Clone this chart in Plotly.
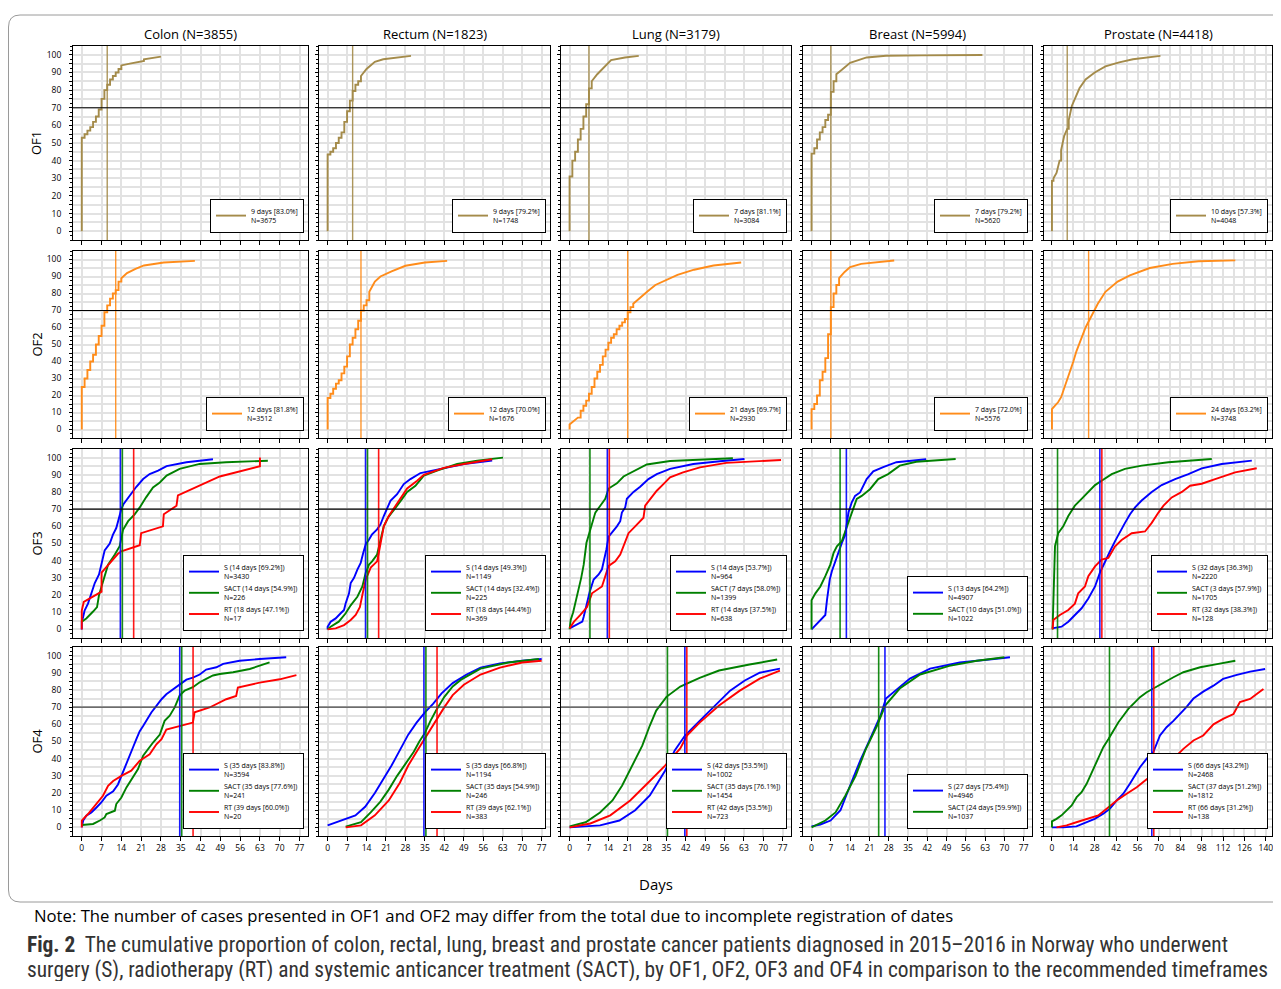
import plotly.graph_objects as go

SCREEN_W, SCREEN_H = 1281, 989
OFF = 8  # default page margin around the plot div
W, H = SCREEN_W - 2 * OFF, SCREEN_H - 2 * OFF

# ---------------- categories / labels ----------------
cancers = ["Colon", "Rectum", "Lung", "Breast", "Prostate"]
cancer_n = [3855, 1823, 3179, 5994, 4418]
rows = ["OF1", "OF2", "OF3", "OF4"]
ticks_short = [0, 7, 14, 21, 28, 35, 42, 49, 56, 63, 70, 77]
ticks_long = [0, 14, 28, 42, 56, 70, 84, 98, 112, 126, 140]
y_ticks = [0, 10, 20, 30, 40, 50, 60, 70, 80, 90, 100]

# ---------------- legend values ----------------
of1_thr_days = [9, 9, 7, 7, 10]
of1_thr_pct = [83.0, 79.2, 81.1, 79.2, 57.3]
of1_n = [3675, 1748, 3084, 5620, 4048]
of2_thr_days = [12, 12, 21, 7, 24]
of2_thr_pct = [81.8, 70.0, 69.7, 72.0, 63.2]
of2_n = [3512, 1676, 2930, 5576, 3748]

of3_s_days = [14, 14, 14, 13, 32]
of3_s_pct = [69.2, 49.3, 53.7, 64.2, 36.3]
of3_s_n = [3430, 1149, 964, 4907, 2220]
of3_sact_days = [14, 14, 7, 10, 3]
of3_sact_pct = [54.9, 32.4, 58.0, 51.0, 57.9]
of3_sact_n = [226, 225, 1399, 1022, 1705]
of3_rt_days = [18, 18, 14, None, 32]
of3_rt_pct = [47.1, 44.4, 37.5, None, 38.3]
of3_rt_n = [17, 369, 638, None, 128]

of4_s_days = [35, 35, 42, 27, 66]
of4_s_pct = [83.8, 66.8, 53.5, 75.4, 43.2]
of4_s_n = [3594, 1194, 1002, 4946, 2468]
of4_sact_days = [35, 35, 35, 24, 37]
of4_sact_pct = [77.6, 54.9, 76.1, 59.9, 51.2]
of4_sact_n = [241, 246, 1454, 1037, 1812]
of4_rt_days = [39, 39, 42, None, 66]
of4_rt_pct = [60.0, 62.1, 53.5, None, 31.2]
of4_rt_n = [20, 383, 723, None, 138]

# ---------------- curves: OF1 ----------------
of1_colon_d = [0, 0, 1, 2, 3, 4, 5, 6, 7, 8, 9, 10, 11, 12, 13, 14, 17, 21, 22, 24, 28]
of1_colon_p = [0, 53, 55, 57, 59, 62, 65, 69, 75, 80, 83, 86, 88, 90, 92, 94, 95, 96.5, 97.5, 98, 99]
of1_rectum_d = [0, 0, 1, 2, 3, 4, 5, 6, 7, 8, 9, 10, 11, 12, 14, 17, 20, 25, 30]
of1_rectum_p = [0, 43.5, 45, 47, 50, 53, 56, 62, 68, 74, 79.5, 83, 85, 88, 92, 96, 97.5, 98.5, 99.4]
of1_lung_d = [0, 0, 1, 2, 3, 4, 5, 6, 7, 8, 10, 12, 15, 20, 25]
of1_lung_p = [0, 31, 40, 45, 52, 58, 65, 72, 81, 85, 89, 92, 97, 98.5, 99.4]
of1_breast_d = [0, 0, 1, 2, 3, 4, 5, 6, 7, 8, 9, 11, 14, 20, 27, 40, 50, 62]
of1_breast_p = [0, 44, 47, 52, 56, 59, 63, 66, 79, 85, 89, 91.5, 95.5, 98.5, 99.5, 99.7, 99.8, 99.9]
of1_prostate_d = [0, 0, 1, 3, 5, 6, 8, 10, 11, 13, 15, 18, 22, 28, 35, 44, 53, 71]
of1_prostate_p = [0, 28.5, 30, 33, 40, 46, 54, 58, 63, 71, 75, 81, 86, 90, 93.4, 95.7, 97.5, 99.4]

# ---------------- curves: OF2 ----------------
of2_colon_d = [0, 0, 1, 2, 3, 4, 5, 6, 7, 8, 9, 10, 11, 12, 13, 14, 16, 19, 22, 29, 40]
of2_colon_p = [0, 25, 30, 35, 40, 44, 50, 55, 61, 69, 73, 77, 80, 82, 87, 89, 92, 94.5, 96.5, 98.2, 99.2]
of2_rectum_d = [0, 0, 1, 2, 3, 4, 5, 6, 7, 8, 9, 10, 11, 12, 13, 14, 15, 17, 19, 23, 28, 35, 43]
of2_rectum_p = [0, 18.5, 21, 24, 27, 29, 33, 37, 43, 50, 54, 59, 64, 70, 73, 76, 81, 87, 90, 93, 96.3, 98.2, 99.2]
of2_lung_d = [0, 0, 3, 4, 5, 6, 7, 8, 9, 10, 11, 12, 13, 14, 15, 16, 17, 18, 19, 20, 21, 22, 23, 25, 28, 31, 35, 39, 45, 52, 62]
of2_lung_p = [0, 3, 7, 11, 14, 17, 21, 25, 30, 34, 38, 43, 47, 51, 54, 56, 59, 61, 63, 65, 69, 72, 74, 77, 81, 85, 88, 91, 94, 96.5, 98.2]
of2_breast_d = [0, 0, 1, 2, 3, 4, 5, 6, 7, 8, 9, 10, 12, 14, 18, 30]
of2_breast_p = [0, 12, 15, 20, 29, 34, 42, 56, 72, 80, 85, 89, 92.7, 95.5, 97.4, 99.4]
of2_prostate_d = [0, 0, 2, 4, 6, 8, 10, 12, 14, 16, 18, 20, 22, 24, 27, 30, 35, 43, 51, 64, 79, 96, 120]
of2_prostate_p = [0, 12, 14, 16, 19, 24, 29, 34, 40, 46, 51, 56, 60, 63.5, 69, 74, 81, 87, 90.7, 95, 97.4, 99, 99.5]

# ---------------- curves: OF3 ----------------
of3_colon_s_d = [0, 0, 0.5, 1, 2.2, 3.4, 4.6, 6.1, 7, 8.1, 9.9, 11, 12.2, 13.2, 14, 14.8, 17, 19.3, 21.7, 24, 27, 30, 37, 46.4]
of3_colon_s_p = [0, 4.5, 7.4, 11, 15, 21, 27, 32, 39, 46, 50, 55, 59, 65, 70, 73, 78, 83, 87.5, 90.4, 92.4, 95, 97.3, 99]
of3_colon_sact_d = [0, 1.6, 4, 5.4, 6.1, 7, 8.1, 9.3, 11.7, 13.4, 14.6, 16.4, 18.7, 20.5, 22.8, 25.2, 27.6, 30, 34.6, 41.7, 51, 65.8]
of3_colon_sact_p = [4.5, 6.4, 10.4, 13, 20, 25, 31, 37.7, 43.6, 48.4, 58, 63, 67, 71, 77, 82.6, 85.5, 89.5, 93.4, 96.3, 97.3, 98.2]
of3_colon_rt_d = [0, 0, 0.7, 7, 7, 12.8, 14, 20.5, 21, 28.7, 29, 33.5, 34, 48.8, 63, 63]
of3_colon_rt_p = [0, 11, 16, 22, 33, 44, 45.5, 49, 56, 60, 67, 72, 78, 89, 95, 100]

of3_rectum_s_d = [0, 0, 1.1, 2.9, 4.7, 5.9, 6.5, 7.7, 8.3, 9.5, 10.7, 11.9, 12.8, 13.7, 14.9, 16, 17.8, 19, 20.2, 21.4, 22.6, 25, 27.4, 29.8, 33.4, 39.4, 49, 59.2]
of3_rectum_s_p = [0, 1.6, 4.5, 6.4, 9.4, 11.3, 15.2, 21, 27, 30, 34.8, 38.7, 44.5, 49.4, 52.3, 55.3, 58.2, 61, 66, 70.9, 74.8, 78.7, 84.6, 87.5, 91, 93, 96.3, 98.2]
of3_rectum_sact_d = [0, 1.1, 4, 6.5, 8.3, 10.7, 12.5, 13.7, 14.9, 16, 17.8, 19, 20.2, 21.7, 23.2, 25, 26.8, 28.6, 31.6, 34.6, 39.4, 46.6, 53.8, 63.1]
of3_rectum_sact_p = [0, 1.6, 4.5, 9.4, 14, 19, 25, 33, 37.7, 39.6, 43.6, 52, 60, 65, 68, 72, 76, 80, 83.6, 89.5, 92.4, 96.3, 98.2, 100]
of3_rectum_rt_d = [0, 2.9, 5.9, 8.3, 10.1, 11.6, 12.5, 13.7, 15.5, 17.8, 18.4, 19, 20.2, 22, 24.4, 26.2, 28.6, 32.2, 34.6, 41.8, 49, 59.2]
of3_rectum_rt_p = [0, 0.6, 2.5, 5.5, 8.4, 13, 20, 29, 36, 39.6, 44.5, 50.4, 60, 66, 72, 76, 82, 86.5, 90, 94, 96.3, 99]

of3_lung_s_d = [0, 2.2, 4.6, 5.1, 6.3, 7.3, 8.7, 10.5, 11.7, 12.6, 13.3, 14.1, 15.7, 17.1, 18.3, 18.9, 20.1, 20.7, 23.1, 25.5, 28.5, 31.5, 36.3, 44.7, 54.3, 63.2]
of3_lung_s_p = [0.6, 2.5, 4.5, 7.4, 15, 22, 29, 32, 35, 40.6, 46.5, 54, 57, 60, 63, 68, 71, 76, 80, 83, 87.5, 90.4, 93.4, 96.3, 97.9, 99.2]
of3_lung_sact_d = [0, 0.4, 1.3, 2.2, 3.4, 4.2, 5.1, 6.1, 7.3, 8.1, 9.3, 11.1, 12.9, 14.1, 17.1, 19.5, 21.9, 27.9, 36.3, 59]
of3_lung_sact_p = [0, 5.5, 10, 16, 23, 30, 37.7, 50.4, 57, 62, 68, 72, 76, 82, 85, 89, 91, 96, 98, 99.6]
of3_lung_rt_d = [0, 1.6, 3.9, 6.3, 8.1, 11.7, 14.1, 16.5, 18.3, 20.1, 21.3, 23.7, 26.7, 27.3, 29.1, 31.5, 33.9, 36.3, 41, 47.1, 56.6, 68.6, 76.4]
of3_lung_rt_p = [0.6, 4.5, 8.4, 13, 21, 25, 37, 39.6, 43.6, 50.4, 56, 60, 65, 72, 76, 80.7, 84.6, 88.5, 91.4, 94.3, 96.9, 97.9, 98.6]

of3_breast_s_d = [0, 1.4, 3.2, 5, 5.6, 6.6, 7.4, 8.6, 9.8, 11, 12.2, 13.4, 14.6, 15.8, 17.6, 18.8, 20, 22.4, 26, 30.8, 41.6]
of3_breast_s_p = [0, 2.5, 5.5, 8.4, 17, 29, 34, 39.6, 45.5, 50.4, 55, 68, 74, 77.7, 79.7, 83.6, 87.5, 92, 94.5, 97.3, 99]
of3_breast_sact_d = [0, 0, 1.4, 3.2, 5, 6.8, 8, 9.2, 11, 12.8, 14.6, 16.4, 18.2, 21.2, 24.2, 27.8, 32, 38, 52.3]
of3_breast_sact_p = [0, 17, 21, 25, 31, 37.7, 44.5, 48.4, 51.4, 60, 68, 76, 77.7, 81.6, 87.5, 90.4, 95.3, 97.6, 99.2]

of3_prostate_s_d = [0, 6.3, 10.7, 15, 19.4, 23.8, 28.2, 31.4, 34.7, 38, 41.3, 44.5, 47.8, 51.1, 54.4, 58.7, 65.3, 71.8, 80.6, 89.3, 98, 111.1, 130.8]
of3_prostate_s_p = [0.6, 1.6, 4.5, 8.4, 12.3, 18, 25, 33, 39.6, 45.5, 51.4, 57, 62, 67, 71, 75, 80, 84, 87.5, 90.4, 93.7, 96.3, 98.2]
of3_prostate_sact_d = [0.4, 0.9, 2, 4.1, 7.4, 10.7, 15, 19.4, 23.8, 28.2, 32.5, 39.1, 47.8, 58.7, 76.2, 104.6]
of3_prostate_sact_p = [0, 21, 48.4, 56, 60, 66, 72, 76, 80, 84, 86.5, 90.4, 93.4, 95.3, 97.3, 99.2]
of3_prostate_rt_d = [0.4, 0.9, 5.2, 10.7, 15, 17.2, 21.6, 23.8, 28.2, 32.5, 36.9, 41.3, 45.6, 52.2, 60.9, 65.3, 69.7, 73, 78.4, 85, 90.4, 98, 106.8, 113.3, 119.9, 134]
of3_prostate_rt_p = [0, 5.5, 8.4, 11.3, 15, 21, 25, 31, 36.7, 40.6, 41.6, 48.4, 52, 56, 57, 62, 68, 72, 76.8, 80, 83.6, 84.8, 87.5, 89.5, 91.4, 93.8]

# ---------------- curves: OF4 ----------------
of4_colon_s_d = [0, 0.5, 1.6, 3.4, 5.2, 6.9, 8.7, 11.1, 12.8, 14.6, 15.8, 17, 18.1, 19.3, 20.5, 21.7, 22.8, 24.6, 26.4, 28.2, 29.9, 32.3, 34.6, 37, 39.3, 41.7, 44, 47.6, 50, 55.8, 62.9, 72.3]
of4_colon_s_p = [0, 4, 6.8, 8.7, 11.6, 14.5, 18.4, 21, 25, 32, 37, 41.7, 46.5, 51.4, 56, 59, 62, 66.9, 70.7, 74.6, 77.5, 80.4, 83.3, 86, 87.2, 89, 91.9, 93.2, 95.2, 97, 98, 99]
of4_colon_sact_d = [0, 4, 6.4, 8.1, 8.7, 11.7, 12.2, 14, 15.8, 17.5, 19.9, 21.7, 23.4, 25.2, 27.6, 29.3, 31.1, 32.9, 34.6, 36.4, 39.3, 41.7, 44, 46.4, 48.8, 53.5, 59.4, 62.9, 66.4]
of4_colon_sact_p = [1.4, 2, 4, 5.8, 7.8, 9.7, 13.6, 17.4, 23.3, 28, 34, 41.7, 45.5, 49.4, 54, 62, 65, 70, 76.7, 79.6, 81.6, 84.5, 86.4, 88.4, 89.3, 90.3, 92.2, 94, 96]
of4_colon_rt_d = [0, 0, 2.2, 4.6, 7.5, 9.3, 11.1, 14, 17.5, 20.5, 24, 26.4, 28.2, 29.9, 34.6, 39.3, 39.9, 45.2, 51.1, 54.6, 55.2, 62.9, 70, 75.9]
of4_colon_rt_p = [0, 4, 7.8, 12.6, 18.4, 24.2, 27, 30, 33, 38.8, 42.6, 48.4, 51.4, 57, 59, 61, 67, 69.8, 74.6, 76.5, 81.4, 84.3, 86.2, 88.6]

of4_rectum_s_d = [0, 5, 10, 13.5, 17, 20, 23, 26, 29, 32, 35, 38, 41, 45, 50, 55, 62, 70, 77]
of4_rectum_s_p = [1.2, 4, 7, 12, 20, 28, 36, 45, 54, 61, 67, 72, 78, 84, 89, 93, 95.5, 97, 98]
of4_rectum_sact_d = [6.5, 12, 15.5, 19, 22, 25, 28, 31, 33, 35, 37, 39, 42, 45, 48, 55, 65, 76]
of4_rectum_sact_p = [0.5, 3, 8.7, 15, 22, 30, 37, 44, 50, 55, 62, 68, 76, 82, 86, 92.4, 96, 98]
of4_rectum_rt_d = [6.5, 12, 17, 22, 26, 29, 32, 35, 37, 39, 42, 45, 49, 55, 62, 70, 77]
of4_rectum_rt_p = [0, 1.2, 7, 15.7, 26, 36, 44, 52, 57, 62, 70, 77, 83, 89, 93, 96, 97]

of4_lung_s_d = [0, 11, 18, 23.7, 29, 34.5, 38, 41.7, 47, 52.5, 58, 63.3, 68.7, 76]
of4_lung_s_p = [0, 1.2, 4, 10, 18.6, 33, 44.8, 53.5, 62, 71, 79.6, 85.5, 90, 92.4]
of4_lung_sact_d = [0, 5.8, 11, 15.5, 19, 22.7, 26.3, 29, 31.3, 35, 40, 47, 54, 65, 75]
of4_lung_sact_p = [0.6, 3, 8.7, 15.7, 24.4, 36, 47.7, 59.3, 68, 76, 82, 87, 91.3, 94.8, 97.7]
of4_lung_rt_d = [0, 7.5, 14.7, 21.9, 29, 34.5, 40, 42.4, 47, 54, 61.5, 68.7, 76]
of4_lung_rt_p = [0, 2.3, 7, 15.7, 27, 36, 46, 53.5, 61, 71, 79.6, 86.6, 91.3]

of4_breast_s_d = [0, 3.2, 6.9, 10.5, 14, 17.7, 21.3, 25, 27, 30.3, 35.7, 43, 53.8, 68, 72]
of4_breast_s_p = [0.6, 1.7, 4, 10, 24.4, 39, 51.7, 65, 75, 79.6, 86.6, 92.4, 96, 98.3, 99]
of4_breast_sact_d = [0, 5, 8.7, 12.3, 16, 19.5, 23.8, 26.7, 32, 39.4, 50, 60, 70]
of4_breast_sact_p = [0, 4, 8.7, 18.6, 30, 44.8, 59.3, 70.9, 80.8, 89, 94, 97, 99]

of4_prostate_s_d = [0, 7.4, 16, 22.7, 28, 33.6, 38, 42.4, 46.7, 51, 54.4, 57.6, 62, 66.4, 70.7, 75, 79.5, 83.8, 88, 92.6, 99, 105.7, 112, 121, 129.7, 139.5]
of4_prostate_s_p = [0, 0, 0.6, 3, 5, 8, 10.9, 15.7, 19.6, 25.4, 30, 35, 40, 44, 53.5, 58.3, 62, 66, 70, 75, 79, 82.5, 86.4, 88.8, 90.7, 92.2]
of4_prostate_sact_d = [0, 0, 3, 6.3, 9.6, 12.9, 16.2, 19.4, 22.7, 27, 30.3, 33.6, 37, 40.2, 43.5, 46.7, 50, 54.4, 57.6, 62, 66.4, 73, 79.5, 86, 97, 108, 120]
of4_prostate_sact_p = [0, 3.5, 5, 7, 9.9, 12.8, 17.6, 20.5, 25.4, 34, 40, 46.7, 51.5, 56.4, 61.2, 65, 69, 72.9, 75.8, 78.7, 81, 84, 87.4, 90.3, 93.2, 95, 97]
of4_prostate_rt_d = [3, 9.6, 16, 23.8, 30.3, 35.8, 42.4, 48.9, 55.5, 62, 66.4, 73, 79.5, 86, 92.6, 99, 105.7, 112, 118.8, 123, 129.7, 134, 138.4]
of4_prostate_rt_p = [0, 1.2, 3, 5, 7, 10.9, 15.7, 19.6, 23.4, 28, 31, 36, 40, 45.7, 50.6, 53.5, 60, 63.2, 66, 73, 74.8, 77.7, 80.6]

# ---------------- assemble ----------------
OF1_COL = "#A48B4A"
OF2_COL = "#FF8C1A"
S_COL, SACT_COL, RT_COL = "#0000FF", "#008000", "#FF0000"

of1_curves = [(of1_colon_d, of1_colon_p), (of1_rectum_d, of1_rectum_p), (of1_lung_d, of1_lung_p),
              (of1_breast_d, of1_breast_p), (of1_prostate_d, of1_prostate_p)]
of2_curves = [(of2_colon_d, of2_colon_p), (of2_rectum_d, of2_rectum_p), (of2_lung_d, of2_lung_p),
              (of2_breast_d, of2_breast_p), (of2_prostate_d, of2_prostate_p)]
of3_curves = [
    [(of3_colon_s_d, of3_colon_s_p), (of3_colon_sact_d, of3_colon_sact_p), (of3_colon_rt_d, of3_colon_rt_p)],
    [(of3_rectum_s_d, of3_rectum_s_p), (of3_rectum_sact_d, of3_rectum_sact_p), (of3_rectum_rt_d, of3_rectum_rt_p)],
    [(of3_lung_s_d, of3_lung_s_p), (of3_lung_sact_d, of3_lung_sact_p), (of3_lung_rt_d, of3_lung_rt_p)],
    [(of3_breast_s_d, of3_breast_s_p), (of3_breast_sact_d, of3_breast_sact_p), None],
    [(of3_prostate_s_d, of3_prostate_s_p), (of3_prostate_sact_d, of3_prostate_sact_p), (of3_prostate_rt_d, of3_prostate_rt_p)],
]
of4_curves = [
    [(of4_colon_s_d, of4_colon_s_p), (of4_colon_sact_d, of4_colon_sact_p), (of4_colon_rt_d, of4_colon_rt_p)],
    [(of4_rectum_s_d, of4_rectum_s_p), (of4_rectum_sact_d, of4_rectum_sact_p), (of4_rectum_rt_d, of4_rectum_rt_p)],
    [(of4_lung_s_d, of4_lung_s_p), (of4_lung_sact_d, of4_lung_sact_p), (of4_lung_rt_d, of4_lung_rt_p)],
    [(of4_breast_s_d, of4_breast_s_p), (of4_breast_sact_d, of4_breast_sact_p), None],
    [(of4_prostate_s_d, of4_prostate_s_p), (of4_prostate_sact_d, of4_prostate_sact_p), (of4_prostate_rt_d, of4_prostate_rt_p)],
]


def daily_steps(d, p):
    """Draw day-to-day increments as steps (as in the original), longer gaps as straight segments."""
    xs, ys = [d[0]], [p[0]]
    for i in range(1, len(d)):
        if d[i] - d[i - 1] == 1:
            xs.append(d[i])
            ys.append(p[i - 1])
        xs.append(d[i])
        ys.append(p[i])
    return xs, ys


# pixel layout of plot areas (screen coordinates)
col_px = [(73, 308), (319, 550), (561, 791), (803, 1032), (1044, 1272)]
row_px = [(46, 240), (251, 438), (449, 638), (647, 836)]
X_RANGE_SHORT = [-3.1, 80.0]
X_RANGE_LONG = [-5.2, 144.0]
GRID = "#e2e2e2"


def px_x(v):
    return (v - OFF) / W


def px_y(v):
    return 1 - (v - OFF) / H


def clamp(v):
    return max(0.0, min(1.0, v))


fig = go.Figure()
layout = {}
shapes = []
annotations = []
FONT = "Open Sans, Noto Sans, DejaVu Sans, sans-serif"
y_grid_vals = list(range(0, 101, 5))
y_grid_text = [str(v) if v % 10 == 0 else "" for v in y_grid_vals]

for r in range(4):
    for c in range(5):
        n = r * 5 + c + 1
        xa = "x" if n == 1 else f"x{n}"
        ya = "y" if n == 1 else f"y{n}"
        xkey = "xaxis" if n == 1 else f"xaxis{n}"
        ykey = "yaxis" if n == 1 else f"yaxis{n}"
        lkey = "legend" if n == 1 else f"legend{n}"
        x0p, x1p = col_px[c]
        y0p, y1p = row_px[r]
        long = (c == 4)
        tv = ticks_long if long else ticks_short
        xr = X_RANGE_LONG if long else X_RANGE_SHORT
        days_per_px = (xr[1] - xr[0]) / (x1p - x0p)
        layout[xkey] = dict(
            domain=[clamp(px_x(x0p)), clamp(px_x(x1p))], anchor=ya,
            range=xr,
            tickmode="array", tickvals=tv, ticktext=[str(t) for t in tv],
            showticklabels=(r == 3), ticks="outside", ticklen=4, tickcolor="black",
            ticklabeloverflow="allow",
            showgrid=True, gridcolor=GRID, gridwidth=1.8,
            minor=dict(dtick=7, tick0=0, showgrid=long, gridcolor=GRID, gridwidth=1.8),
            showline=True, mirror=True, linecolor="black", linewidth=1,
            zeroline=False, tickfont=dict(size=8.5, family=FONT, color="black"),
        )
        layout[ykey] = dict(
            domain=[clamp(px_y(y1p)), clamp(px_y(y0p))], anchor=xa,
            range=[-5, 105], tickmode="array", tickvals=y_grid_vals,
            ticktext=y_grid_text,
            showticklabels=(c == 0), ticks="outside", ticklen=3, tickcolor="black",
            ticklabelstandoff=6,
            showgrid=True, gridcolor=GRID, gridwidth=1.8,
            minor=dict(dtick=2.5, tick0=0, showgrid=False,
                       ticks="outside", ticklen=2, tickcolor="black"),
            showline=True, mirror=True, linecolor="black", linewidth=1,
            zeroline=False, tickfont=dict(size=8.5, family=FONT, color="black"),
        )
        layout[lkey] = dict(
            x=clamp(px_x(x1p - 4)), y=clamp(px_y(y1p - 7)), xref="paper", yref="paper",
            xanchor="right", yanchor="bottom", bgcolor="white",
            bordercolor="black", borderwidth=1, tracegroupgap=14,
            font=dict(size=7, family=FONT, color="black"),
            itemwidth=30, traceorder="normal",
        )

        series = []
        if r == 0:
            d, p = daily_steps(*of1_curves[c])
            series.append((d, p, OF1_COL, f"{of1_thr_days[c]} days [{of1_thr_pct[c]:.1f}%]<br>N={of1_n[c]}", of1_thr_days[c], 0))
        elif r == 1:
            d, p = daily_steps(*of2_curves[c])
            series.append((d, p, OF2_COL, f"{of2_thr_days[c]} days [{of2_thr_pct[c]:.1f}%]<br>N={of2_n[c]}", of2_thr_days[c], 0))
        else:
            cur = of3_curves[c] if r == 2 else of4_curves[c]
            if r == 2:
                meta = [("S", of3_s_days, of3_s_pct, of3_s_n, S_COL),
                        ("SACT", of3_sact_days, of3_sact_pct, of3_sact_n, SACT_COL),
                        ("RT", of3_rt_days, of3_rt_pct, of3_rt_n, RT_COL)]
            else:
                meta = [("S", of4_s_days, of4_s_pct, of4_s_n, S_COL),
                        ("SACT", of4_sact_days, of4_sact_pct, of4_sact_n, SACT_COL),
                        ("RT", of4_rt_days, of4_rt_pct, of4_rt_n, RT_COL)]
            for k, (lab, dd, pp, nn, col) in enumerate(meta):
                if cur[k] is None:
                    continue
                d, p = cur[k]
                pxoff = -1 if lab == "S" else 1
                series.append((d, p, col, f"{lab} ({dd[c]} days [{pp[c]:.1f}%])<br>N={nn[c]}", dd[c], pxoff))

        for j, (d, p, col, name, thr, pxoff) in enumerate(series):
            fig.add_trace(go.Scatter(
                x=d, y=p, mode="lines", line=dict(color=col, width=1.9),
                name=name, xaxis=xa, yaxis=ya, legend=lkey,
                legendgroup=f"g{n}_{j}", showlegend=True, hoverinfo="skip",
            ))
            xv = thr + pxoff * days_per_px
            shapes.append(dict(type="line", xref=xa, yref=f"{ya} domain", x0=xv, x1=xv, y0=0, y1=1,
                               line=dict(color=col, width=1.4 if r < 2 else 1.6), opacity=0.9, layer="above"))
        shapes.append(dict(type="line", xref=f"{xa} domain", yref=ya, x0=0, x1=1, y0=70, y1=70,
                           line=dict(color="black" if r < 3 else "#444444", width=1.2), layer="above"))

# column titles
for c in range(5):
    x0p, x1p = col_px[c]
    annotations.append(dict(text=f"{cancers[c]} (N={cancer_n[c]})", x=px_x((x0p + x1p) / 2), y=px_y(34),
                            xref="paper", yref="paper", showarrow=False, xanchor="center", yanchor="middle",
                            font=dict(size=13, family=FONT, color="black")))
# row titles
for r in range(4):
    y0p, y1p = row_px[r]
    annotations.append(dict(text=rows[r], x=px_x(36), y=px_y((y0p + y1p) / 2), xref="paper", yref="paper",
                            showarrow=False, textangle=-90, xanchor="center", yanchor="middle",
                            font=dict(size=13, family=FONT, color="black")))
# x axis title
annotations.append(dict(text="Days", x=px_x(656), y=px_y(884), xref="paper", yref="paper", showarrow=False,
                        xanchor="center", yanchor="middle", font=dict(size=15, family=FONT, color="black")))
# note
annotations.append(dict(text="Note: The number of cases presented in OF1 and OF2 may differ from the total due to incomplete registration of dates",
                        x=px_x(32), y=px_y(915), xref="paper", yref="paper", showarrow=False,
                        xanchor="left", yanchor="middle", font=dict(size=16.7, family=FONT, color="black")))
# caption
CAP_FONT = "Liberation Sans Narrow, Roboto Condensed, Roboto, sans-serif"
annotations.append(dict(text="<b>Fig. 2</b>  The cumulative proportion of colon, rectal, lung, breast and prostate cancer patients diagnosed in 2015–2016 in Norway who underwent",
                        x=px_x(25), y=px_y(944), xref="paper", yref="paper", showarrow=False,
                        xanchor="left", yanchor="middle", font=dict(size=21.4, family=CAP_FONT, color="#333333")))
annotations.append(dict(text="surgery (S), radiotherapy (RT) and systemic anticancer treatment (SACT), by OF1, OF2, OF3 and OF4 in comparison to the recommended timeframes",
                        x=px_x(25), y=px_y(970), xref="paper", yref="paper", showarrow=False,
                        xanchor="left", yanchor="middle", font=dict(size=21.4, family=CAP_FONT, color="#333333")))

# outer rounded frame
frame_path = (f"M {px_x(1290)},{px_y(15)} L {px_x(20)},{px_y(15)} Q {px_x(8.5)},{px_y(15)} {px_x(8.5)},{px_y(27)} "
              f"L {px_x(8.5)},{px_y(890)} Q {px_x(8.5)},{px_y(902)} {px_x(20)},{px_y(902)} L {px_x(1290)},{px_y(902)}")
shapes.append(dict(type="path", xref="paper", yref="paper", path=frame_path,
                   line=dict(color="#9a9a9a", width=1)))

fig.update_layout(
    width=W, height=H, margin=dict(l=0, r=0, t=0, b=0),
    paper_bgcolor="white", plot_bgcolor="white",
    shapes=shapes, annotations=annotations, **layout,
)
fig.write_html("out.html")
